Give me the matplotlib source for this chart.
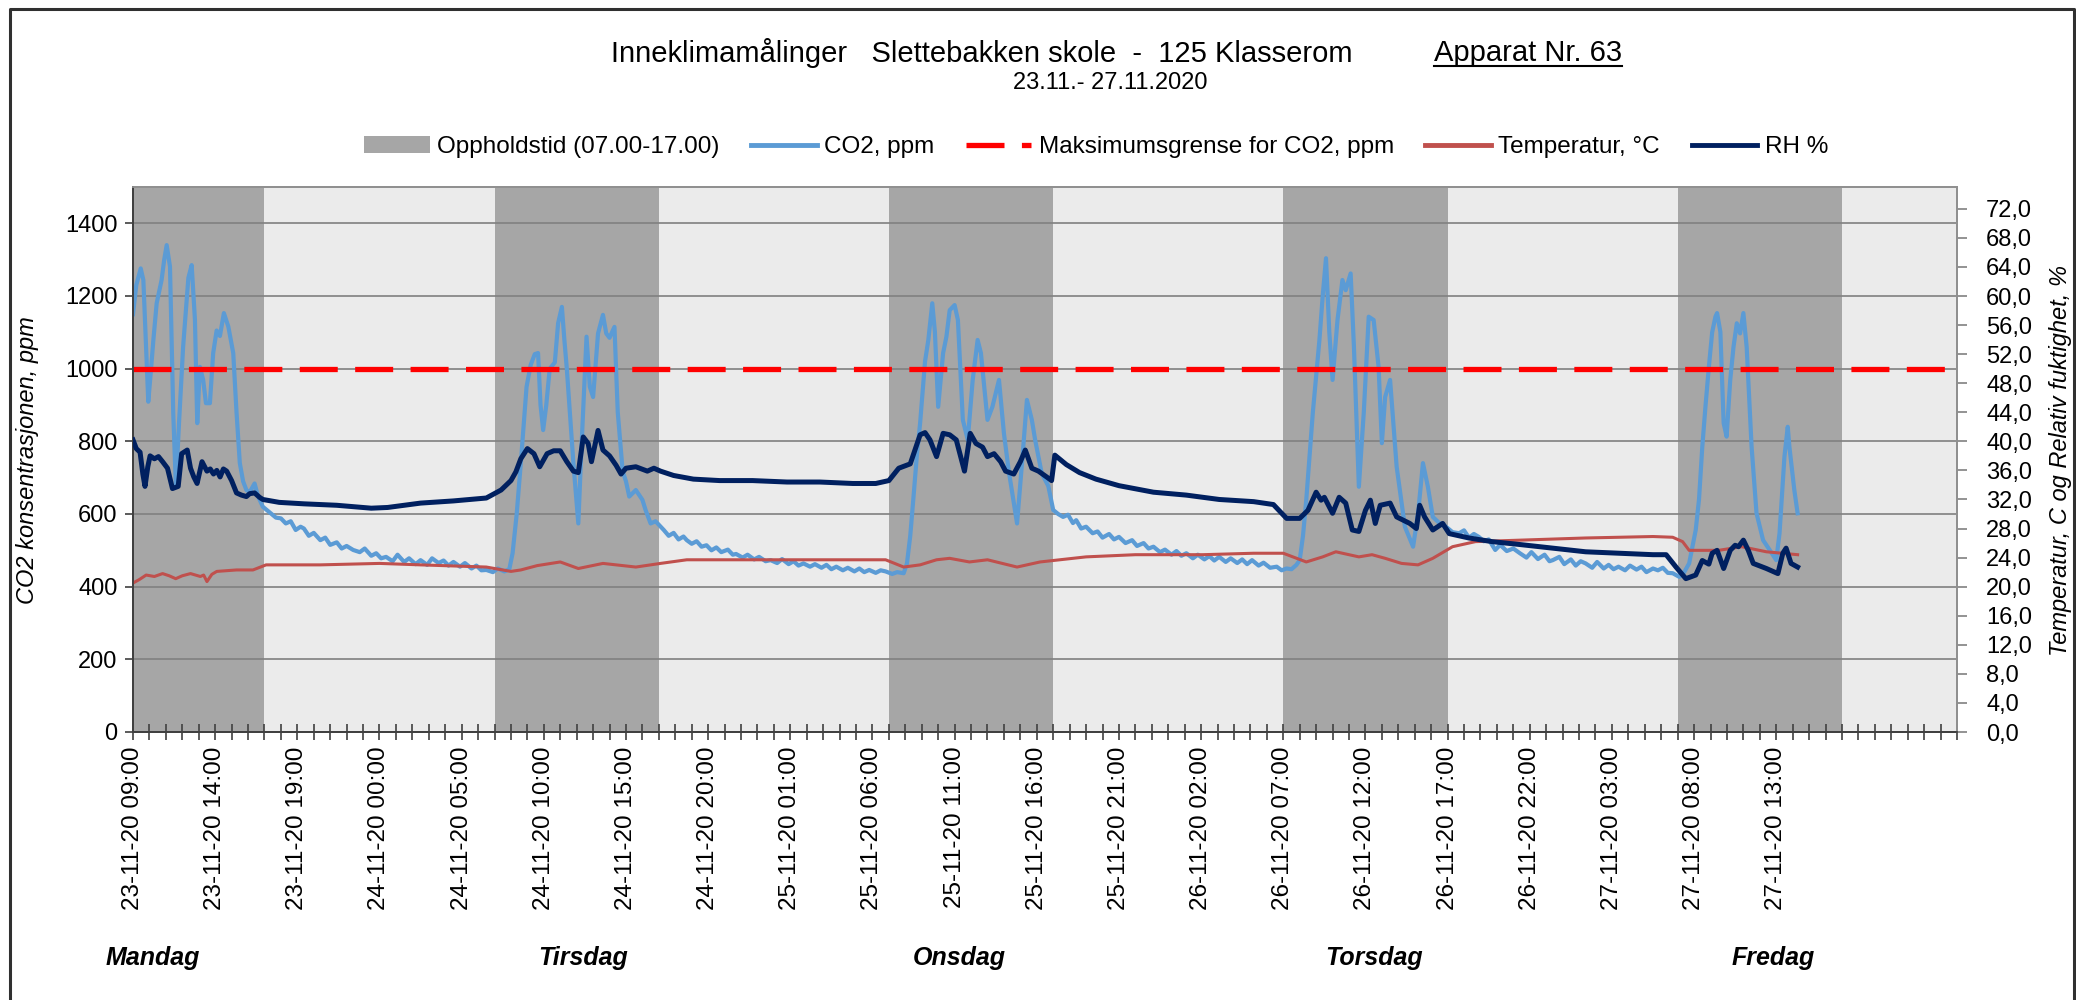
"""Inneklima: CO2, temperatur og RH for klasserom 125, uke 48 2020."""

import matplotlib
matplotlib.use("Agg")
import matplotlib.pyplot as plt
import matplotlib.transforms as mtransforms
from matplotlib.lines import Line2D
from matplotlib.patches import Patch
from matplotlib.ticker import MultipleLocator, FuncFormatter

plt.rcParams["font.family"] = ["Liberation Sans", "DejaVu Sans"]

# timer etter 23-11-20 09:00
co2_hours = [
    0.0, 0.2, 0.47, 0.63, 0.8, 0.93, 1.1, 1.24, 1.44, 1.74, 1.9, 2.05, 2.25, 2.45, 2.61, 2.8,
    3.05, 3.37, 3.57, 3.77, 3.91, 4.07, 4.27, 4.44, 4.68, 4.88, 5.09, 5.29, 5.53, 5.8, 6.1,
    6.3, 6.5, 6.7, 6.9, 7.1, 7.4, 7.6, 7.9,
    8.3, 8.7, 9.0, 9.3, 9.6, 9.9, 10.2, 10.4, 10.7, 11.0, 11.4, 11.7, 12.0, 12.4, 12.7, 13.0,
    13.4, 13.8, 14.1, 14.5, 14.8, 15.1, 15.4, 15.8, 16.1, 16.5, 16.8, 17.2, 17.5, 17.9, 18.2,
    18.6, 18.9, 19.2, 19.5, 19.9, 20.2, 20.6, 20.9, 21.2, 21.5, 21.9, 22.2, 22.6, 22.9,
    23.1, 23.35, 23.6, 23.95, 24.2, 24.45, 24.65, 24.8, 24.96, 25.15, 25.36, 25.67, 25.87,
    26.1, 26.25, 26.4, 26.8, 27.1, 27.3, 27.6, 27.8, 28.0, 28.3, 28.6, 28.8, 29.0, 29.3, 29.5,
    29.8, 30.0, 30.2, 30.6, 31.0, 31.2, 31.5, 31.8,
    32.3, 32.6, 32.9, 33.2, 33.5, 33.7, 34.0, 34.3, 34.6, 34.9, 35.2, 35.5, 35.8, 36.2, 36.5,
    36.7, 37.1, 37.4, 37.8, 38.1, 38.5, 38.8, 39.2, 39.5, 39.9, 40.2, 40.5, 40.8, 41.2, 41.5,
    41.9, 42.2, 42.5, 42.8, 43.2, 43.5, 43.9, 44.2, 44.5, 44.8, 45.2, 45.5, 45.8, 46.2, 46.5,
    46.9,
    47.1, 47.3, 47.5, 47.7, 47.9, 48.2, 48.4, 48.64, 48.8, 49.0, 49.3, 49.5, 49.7, 50.0, 50.2,
    50.5, 50.8, 51.1, 51.4, 51.6, 51.8, 52.0, 52.3, 52.7, 53.0, 53.3, 53.8, 54.1, 54.4, 54.7,
    54.9, 55.3, 55.7, 56.0,
    56.3, 56.6, 56.9, 57.2, 57.4, 57.7, 58.0, 58.4, 58.7, 59.0, 59.4, 59.7, 60.0, 60.4, 60.8,
    61.1, 61.5, 61.8, 62.1, 62.5, 62.8, 63.2, 63.5, 63.8, 64.1, 64.5, 64.8, 65.2, 65.5, 65.8,
    66.1, 66.5, 66.8, 67.2, 67.5, 67.8, 68.1, 68.5, 68.8, 69.2, 69.6, 69.9, 70.2, 70.5, 70.8,
    71.0,
    71.2, 71.4, 71.6, 71.8, 72.0, 72.2, 72.4, 72.6, 72.8, 73.0, 73.3, 73.6, 73.8, 74.1, 74.3,
    74.6, 74.9, 75.2, 75.5, 75.8, 76.0, 76.2, 76.5, 76.9, 77.4, 77.9, 78.2, 78.5, 78.8, 79.1,
    79.5, 79.9,
    80.3, 80.7, 81.0, 81.3, 81.6, 81.9, 82.2, 82.5, 82.9, 83.2, 83.6, 84.0, 84.4, 84.8, 85.1,
    85.5, 85.9, 86.2, 86.4, 86.8, 87.1, 87.5, 87.8, 88.1, 88.4, 88.8, 89.1, 89.5, 89.8, 90.1,
    90.4, 90.8, 91.1, 91.5, 91.8, 92.1, 92.5, 92.8, 93.1, 93.4, 93.7, 94.1, 94.4,
    94.7, 95.1, 95.3, 95.5, 95.7, 95.9, 96.1, 96.3, 96.4, 96.6, 96.8, 96.98, 97.2, 97.4, 97.6,
    97.8, 98.0, 98.2, 98.5, 98.8, 99.2, 99.6, 100.0, 100.2, 100.5, 100.7, 100.8, 101.1, 101.3,
]
co2_ppm = [
    1150, 1230, 1276, 1244, 1050, 909, 1000, 1079, 1180, 1244, 1300, 1340, 1281, 877, 675, 850,
    1060, 1250, 1285, 1134, 850, 1005, 969, 905, 905, 1043, 1105, 1090, 1153, 1116, 1043,
    880, 740, 690, 666, 660, 684, 650, 620,
    605, 590, 588, 574, 580, 556, 565, 560, 540, 548, 528, 535, 515, 522, 505, 512,
    501, 495, 505, 485, 492, 478, 482, 470, 488, 468, 478, 462, 473, 460, 478,
    465, 472, 458, 468, 455, 465, 450, 458, 445, 446, 440, 450, 442, 448,
    492, 600, 740, 950, 1010, 1040, 1043, 900, 831, 900, 1000, 1017, 1125,
    1170, 1080, 1000, 740, 574, 791, 1088, 950, 922, 1097, 1148, 1097, 1085, 1115, 880,
    717, 690, 648, 666, 639, 610, 574, 580,
    556, 540, 548, 530, 538, 528, 518, 525, 510, 514, 500, 508, 495, 502, 488,
    490, 480, 488, 475, 482, 470, 473, 465, 476, 462, 470, 458, 464, 455, 462,
    452, 460, 448, 455, 445, 452, 442, 450, 440, 446, 438, 445, 442, 435, 440,
    437,
    464, 540, 648, 760, 850, 1020, 1079, 1180, 1101, 895, 1043, 1088, 1161, 1175, 1134,
    859, 804, 969, 1079, 1043, 950, 859, 895, 969, 822, 717, 574, 740, 914, 859,
    804, 712, 677, 611,
    600, 592, 598, 575, 583, 560, 565, 547, 552, 535, 545, 530, 537, 520, 528,
    512, 520, 505, 510, 495, 502, 488, 498, 485, 492, 478, 488, 475, 484, 472,
    482, 468, 478, 465, 475, 462, 473, 458, 466, 452, 455, 445, 450, 448, 460,
    473,
    540, 639, 760, 880, 980, 1079, 1200, 1304, 1101, 969, 1134, 1244, 1216, 1262, 1060,
    675, 880, 1143, 1134, 1005, 795, 922, 969, 730, 565, 510, 600, 740, 675, 592,
    575, 565,
    550, 547, 555, 535, 545, 537, 525, 530, 501, 515, 498, 505, 492, 480, 495,
    476, 488, 470, 473, 482, 462, 475, 458, 470, 464, 452, 468, 450, 460, 448,
    455, 445, 458, 447, 455, 440, 450, 445, 452, 438, 437, 427, 440,
    464, 556, 640, 785, 900, 1005, 1100, 1143, 1153, 1101, 850, 813, 969, 1060, 1125,
    1097, 1153, 1060, 785, 602, 528, 501, 473, 547, 758, 840, 785, 666, 602,
]

temp_hours = [
    0.0, 0.4, 0.8, 1.3, 1.8, 2.2, 2.6, 3.0, 3.5, 4.1, 4.3, 4.5, 4.8, 5.1, 6.3, 7.3, 8.1,
    11.4, 15.0, 17.5, 21.5, 23.0, 23.6, 24.6, 26.0, 27.1, 28.6, 30.6, 32.1, 33.7, 37.7,
    41.8, 45.8, 46.9, 47.9, 48.9, 49.7, 50.9, 52.0, 53.8, 55.2, 56.4, 58.0, 61.0, 65.1,
    68.2, 70.0, 71.4, 72.4, 73.2, 74.6, 75.4, 76.2, 77.2, 78.2, 79.1, 80.3, 81.7, 84.4,
    88.4, 92.5, 93.7, 94.3, 94.7, 95.3, 96.5, 97.9, 99.4, 101.3,
]
temp_c = [
    20.5, 21.0, 21.6, 21.4, 21.8, 21.5, 21.1, 21.5, 21.8, 21.4, 21.6, 20.7, 21.7, 22.1, 22.3, 22.3, 23.0,
    23.0, 23.2, 23.0, 22.7, 22.1, 22.3, 22.9, 23.4, 22.5, 23.2, 22.7, 23.2, 23.7, 23.7,
    23.7, 23.7, 22.7, 23.0, 23.7, 23.9, 23.4, 23.7, 22.7, 23.4, 23.7, 24.1, 24.4, 24.4,
    24.6, 24.6, 23.4, 24.1, 24.8, 24.1, 24.4, 23.9, 23.2, 23.0, 23.9, 25.5, 26.2, 26.4,
    26.7, 26.9, 26.8, 26.2, 25.0, 25.0, 25.0, 25.5, 24.8, 24.4,
]

rh_hours = [
    0.0, 0.2, 0.43, 0.6, 0.73, 0.9, 1.04, 1.3, 1.55, 1.8, 2.1, 2.4, 2.75, 2.96, 3.3, 3.5,
    3.7, 3.9, 4.2, 4.5, 4.7, 4.9, 5.1, 5.3, 5.5, 5.7, 6.0, 6.3, 6.6, 6.9, 7.1, 7.4, 7.7,
    7.9, 8.9, 10.4, 12.4, 14.5, 15.5, 17.5, 19.5, 21.5, 22.4, 23.0, 23.3, 23.6, 24.0, 24.4,
    24.75, 25.2, 25.6, 26.0, 26.4, 26.8, 27.1, 27.4, 27.7, 27.9, 28.3, 28.6, 29.0, 29.4,
    29.7, 30.0, 30.6, 31.3, 31.7, 32.1, 32.9, 34.1, 35.7, 37.7, 39.8, 41.8, 43.8, 45.2,
    46.0, 46.6, 47.3, 47.9, 48.2, 48.5, 48.9, 49.3, 49.7, 50.1, 50.6, 50.95, 51.3, 51.7,
    52.0, 52.4, 52.8, 53.1, 53.6, 54.0, 54.3, 54.7, 55.1, 55.6, 55.9, 56.1, 56.8, 57.6,
    58.6, 60.0, 62.1, 64.1, 66.1, 68.2, 69.4, 70.2, 71.0, 71.5, 72.0, 72.3, 72.5, 73.0,
    73.4, 73.8, 74.2, 74.6, 75.0, 75.3, 75.6, 75.9, 76.5, 76.9, 77.7, 78.1, 78.3, 78.6,
    79.1, 79.7, 80.1, 81.3, 82.7, 84.4, 86.4, 88.4, 90.4, 92.5, 93.3, 93.9, 94.5, 95.1,
    95.5, 95.9, 96.1, 96.4, 96.8, 97.2, 97.5, 97.7, 98.0, 98.3, 98.6, 99.4, 100.1, 100.4,
    100.6, 100.9, 101.3,
]
rh_pct = [
    40.2, 39.0, 38.5, 35.5, 33.8, 36.5, 38.0, 37.6, 37.9, 37.2, 36.3, 33.5, 33.8, 38.3, 38.8, 36.3,
    35.1, 34.2, 37.2, 35.9, 36.2, 35.5, 36.0, 35.1, 36.2, 35.9, 34.6, 32.9, 32.6, 32.4, 32.8, 32.9, 32.3,
    32.0, 31.6, 31.4, 31.2, 30.8, 30.9, 31.5, 31.8, 32.2, 33.3, 34.6, 35.8, 37.6, 39.0, 38.3,
    36.5, 38.3, 38.7, 38.7, 37.2, 35.9, 35.7, 40.6, 39.7, 37.2, 41.5, 38.8, 38.0, 36.7,
    35.5, 36.3, 36.5, 35.9, 36.3, 35.9, 35.3, 34.8, 34.6, 34.6, 34.4, 34.4, 34.2, 34.2,
    34.6, 36.3, 36.9, 40.9, 41.2, 40.2, 37.9, 41.1, 40.9, 40.2, 35.9, 41.1, 39.7, 39.2,
    37.9, 38.3, 37.2, 35.9, 35.5, 37.2, 38.8, 36.3, 35.9, 35.1, 34.6, 38.1, 36.8, 35.7,
    34.8, 33.9, 33.0, 32.6, 32.0, 31.7, 31.3, 29.4, 29.4, 30.5, 33.0, 31.9, 32.3, 30.1,
    32.3, 31.5, 27.8, 27.6, 30.5, 31.9, 28.7, 31.2, 31.5, 29.6, 28.7, 28.0, 31.2, 29.6,
    27.8, 28.7, 27.3, 26.7, 26.2, 25.8, 25.3, 24.8, 24.6, 24.4, 24.4, 22.7, 21.1, 21.6,
    23.6, 23.1, 24.6, 25.0, 22.5, 25.0, 25.7, 25.5, 26.4, 25.0, 23.2, 22.5, 21.8, 24.6,
    25.3, 23.2, 22.7,
]

co2_limit = 1000

# oppholdstid 07.00-17.00 (første dag starter målingene 09.00)
occupied_start = [0, 22, 46, 70, 94]
occupied_end = [8, 32, 56, 80, 104]

x_tick_labels = [
    "23-11-20 09:00", "23-11-20 14:00", "23-11-20 19:00", "24-11-20 00:00", "24-11-20 05:00",
    "24-11-20 10:00", "24-11-20 15:00", "24-11-20 20:00", "25-11-20 01:00", "25-11-20 06:00",
    "25-11-20 11:00", "25-11-20 16:00", "25-11-20 21:00", "26-11-20 02:00", "26-11-20 07:00",
    "26-11-20 12:00", "26-11-20 17:00", "26-11-20 22:00", "27-11-20 03:00", "27-11-20 08:00",
    "27-11-20 13:00",
]
day_names = ["Mandag", "Tirsdag", "Onsdag", "Torsdag", "Fredag"]
day_label_hours = [1.2, 27.4, 50.3, 75.5, 99.8]

C_CO2 = "#5B9BD5"
C_LIMIT = "#FF0000"
C_TEMP = "#C0504D"
C_RH = "#002060"
C_OCC = "#A6A6A6"
C_BG = "#EBEBEB"

W, H = 2076, 1000
fig = plt.figure(figsize=(W / 100, H / 100), dpi=100)
ax = fig.add_axes([133 / W, 1 - 732 / H, (1957 - 133) / W, (732 - 187) / H])

ax.set_facecolor(C_BG)
for s, e in zip(occupied_start, occupied_end):
    ax.axvspan(s, e, color=C_OCC, lw=0, zorder=0.2)
ax.set_axisbelow(True)
ax.grid(axis="y", color="#808080", lw=1.2)
ax.grid(axis="x", visible=False)

ax.plot(co2_hours, co2_ppm, color=C_CO2, lw=3.0, zorder=2)
ax.axhline(co2_limit, color=C_LIMIT, lw=3.8, dashes=(7.2, 3.3), dash_capstyle="butt", zorder=3)

ax.set_xlim(0, 111)
ax.set_ylim(0, 1500)
ax.set_yticks(range(0, 1401, 200))
ax.set_xticks(range(0, 101, 5))
ax.set_xticklabels(x_tick_labels, rotation=90, fontsize=17.5)
ax.xaxis.set_minor_locator(MultipleLocator(1))
ax.tick_params(axis="x", which="both", direction="inout", length=11, width=1.2,
               color="#404040", pad=5)
ax.tick_params(axis="y", direction="out", length=6, width=1.2, color="#404040",
               labelsize=17, pad=5)

ax2 = ax.twinx()
ax2.plot(temp_hours, temp_c, color=C_TEMP, lw=2.2, zorder=2)
ax2.plot(rh_hours, rh_pct, color=C_RH, lw=3.6, zorder=3)
ax2.set_ylim(0, 75)
ax2.set_yticks(range(0, 73, 4))
ax2.yaxis.set_major_formatter(FuncFormatter(lambda v, _: f"{v:.1f}".replace(".", ",")))
ax2.tick_params(axis="y", direction="out", length=7, width=1.2, color="#808080",
                labelsize=17, pad=14)

for a in (ax, ax2):
    a.spines["top"].set_color("#909090")
    a.spines["right"].set_color("#909090")
    a.spines["left"].set_color("#404040")
    a.spines["bottom"].set_color("#404040")
    for sp in a.spines.values():
        sp.set_linewidth(1.3)

fig.text(28 / W, 1 - 460 / H, "CO2 konsentrasjonen, ppm", rotation=90, style="italic",
         fontsize=17, ha="center", va="center")
fig.text(2060 / W, 1 - 460 / H, "Temperatur, C og Relativ fuktighet, %", rotation=90,
         style="italic", fontsize=17, ha="center", va="center")

# titler
fig.text(982 / W, 1 - 53 / H, "Inneklimamålinger   Slettebakken skole  -  125 Klasserom",
         fontsize=21, ha="center", va="center")
app = fig.text(1528 / W, 1 - 53 / H, "Apparat Nr. 63", fontsize=21, ha="center", va="center")
fig.text(1110 / W, 1 - 83 / H, "23.11.- 27.11.2020", fontsize=17, ha="center", va="center")

renderer = fig.canvas.get_renderer()
bb = app.get_window_extent(renderer).transformed(fig.transFigure.inverted())
fig.add_artist(Line2D([bb.x0, bb.x1], [bb.y0 + 0.001, bb.y0 + 0.001], color="black", lw=1.5))

# dagnavn under aksen
day_trans = mtransforms.blended_transform_factory(ax.transData, fig.transFigure)
for name, hr in zip(day_names, day_label_hours):
    ax.text(hr, 1 - 958 / H, name, transform=day_trans, fontsize=18, fontweight="bold",
            style="italic", ha="center", va="center", clip_on=False)

handles = [
    Patch(facecolor=C_OCC, edgecolor="none"),
    Line2D([], [], color=C_CO2, lw=3.5),
    Line2D([], [], color=C_LIMIT, lw=3.8, dashes=(7.2, 3.3), dash_capstyle="butt"),
    Line2D([], [], color=C_TEMP, lw=3.5),
    Line2D([], [], color=C_RH, lw=3.5),
]
labels = ["Oppholdstid (07.00-17.00)", "CO2, ppm", "Maksimumsgrense for CO2, ppm",
          "Temperatur, °C", "RH %"]
fig.legend(handles, labels, loc="center", bbox_to_anchor=(1096 / W, 1 - 147 / H), ncol=5,
           frameon=False, fontsize=17.5, handlelength=2.7, handletextpad=0.3,
           columnspacing=1.3)

# ramme rundt figuren
fig.add_artist(Line2D([10 / W, 10 / W, 2074 / W, 2074 / W], [0, 1 - 9 / H, 1 - 9 / H, 0],
                      color="#303030", lw=2.2))

fig.savefig("out.png", dpi=100)
